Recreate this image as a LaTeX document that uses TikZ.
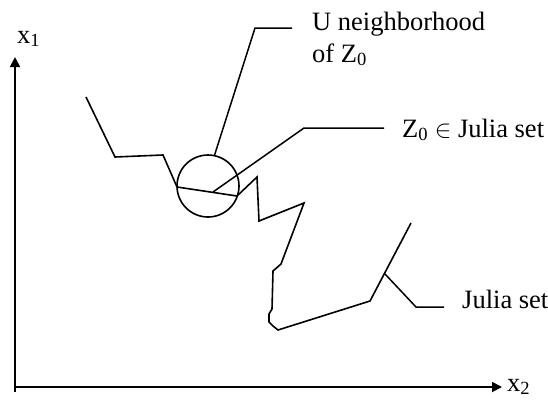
\documentclass[tikz,border=0pt]{standalone}
\usepackage{fontspec}
\setmainfont{Liberation Serif}
\usetikzlibrary{arrows.meta, positioning}
\tikzset{
  axisline/.style={
    line width=1.8pt,
    draw=black,
    -{Triangle[length=10pt, width=10pt]}
  },
  juliacurve/.style={
    line width=1.6pt,
    draw=black,
    line join=miter
  },
  leaderline/.style={
    line width=1.5pt,
    draw=black
  },
  nbhdcircle/.style={
    circle,
    draw=black,
    line width=1.6pt,
    minimum size=62pt,
    inner sep=0pt
  },
  labeltext/.style={
    anchor=base west,
    inner sep=0pt,
    align=left,
    font=\fontsize{26.5}{32}\selectfont
  }
}

\begin{document}
\begin{tikzpicture}[x=1pt, y=-1pt]
  \useasboundingbox (0,0) rectangle (548,400);

  % axes
  \coordinate (origin) at (15,387);
  \coordinate (ytip) at (15,57);
  \coordinate (xtip) at (502,387);
  \node[labeltext] (xone) at (17,43) {x\textsubscript{1}};
  \node[labeltext] (xtwo) at (507,391) {x\textsubscript{2}};
  \draw[axisline] ([yshift=-5pt]origin) -- (ytip);
  \draw[axisline] (origin) -- (xtip);

  % Julia set (broken line)
  \draw[juliacurve] (86,97) -- (115,157) -- (163,155) -- (177,187)
    -- (237,196) -- (257,177) -- (259,221) -- (304,203) -- (281,264)
    -- (273,271) -- (272,309) -- (269,314) -- (269,322) -- (273,326)
    -- (278,330) -- (370,301) -- (411,223);

  % neighborhood U of Z0
  \node[nbhdcircle] (nbhd) at (208,186) {};
  \coordinate (zpoint) at (213,192);
  \coordinate (jpoint) at (385,274);

  % labels (base = last line)
  \node[labeltext] (ulabel) at (312,62) {U neighborhood\\of Z\textsubscript{0}};
  \node[labeltext] (zlabel) at (402,137) {Z\textsubscript{0} $\in$ Julia set};
  \node[labeltext] (jlabel) at (462,308) {Julia set};

  % leaders
  \coordinate (ubend) at (255,28);
  \coordinate (uend) at (292,28);
  \coordinate (zbend) at (304,128);
  \coordinate (zend) at (384,128);
  \coordinate (jbend) at (416,307);
  \coordinate (jend) at (444,307);
  \draw[leaderline] (nbhd.78) -- (ubend) -- (uend);
  \draw[leaderline] (zpoint) -- (zbend) -- (zend);
  \draw[leaderline] (jpoint) -- (jbend) -- (jend);
\end{tikzpicture}
\end{document}
